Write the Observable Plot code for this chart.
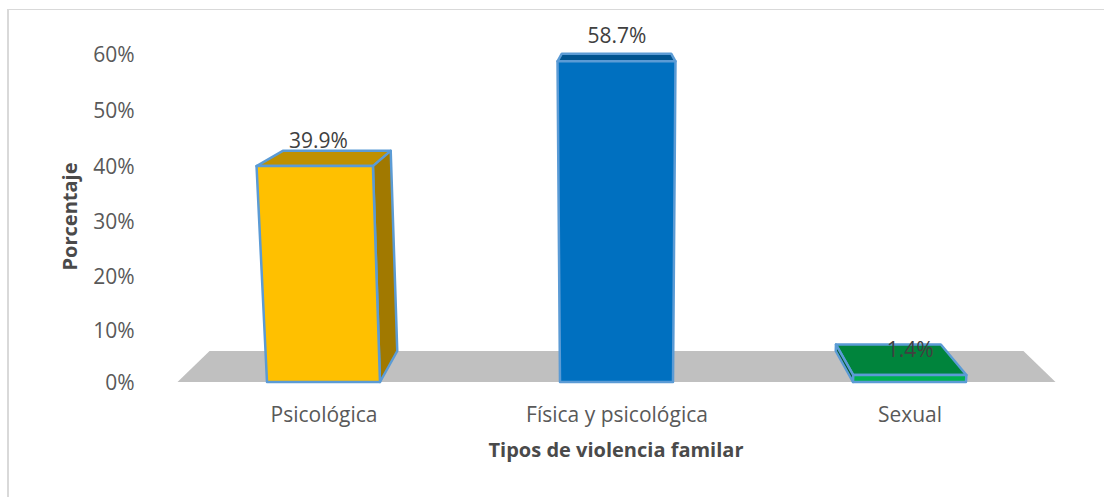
<!DOCTYPE html>
<html>
<head>
<meta charset="utf-8">
<script src="https://cdn.jsdelivr.net/npm/d3@7"></script>
<script src="https://cdn.jsdelivr.net/npm/@observablehq/plot@0.6"></script>
<style>
html,body{margin:0;padding:0;background:#fff;overflow:hidden}
#chart{position:relative;width:1104px;height:497px}
#chart svg{position:absolute;left:0;top:0;background:transparent}
#edge{position:absolute;left:7px;top:9px;right:0;bottom:0;border-left:2px solid #d9d9d9;border-top:1.5px solid #d9d9d9}
</style>
</head>
<body>
<div id="chart"><div id="edge"></div></div>
<script>
const categories = ["Psicológica", "Física y psicológica", "Sexual"];
const percentages = [39.9, 58.7, 1.4];
const valueLabels = ["39.9%", "58.7%", "1.4%"];
const barColors = ["#FFC000", "#0070C0", "#00B050"];
const yTicks = [0, 10, 20, 30, 40, 50, 60];
const xTitle = "Tipos de violencia familar";
const yTitle = "Porcentaje";

const rows = categories.map((category, i) => ({category, value: percentages[i], label: valueLabels[i]}));

const W = 1104, H = 497, FONT = "'Open Sans', sans-serif";
const depth = 0.927, vy = -42.6, widen = 0.00075;
const vx = (W + 176 - 47) / 2;
const backPt = ([x, y]) => [vx + (x - vx) * depth, vy + (y - vy) * depth];
const shade = (c, k) => { const r = d3.rgb(c); return d3.rgb(r.r * k, r.g * k, r.b * k).formatHex(); };
const pts = (a) => a.map((p) => p.map((n) => n.toFixed(2)).join(",")).join(" ");

function floorMark(index, scales, values, dims) {
  const g = d3.create("svg:g");
  const y0 = scales.y(0), a = dims.marginLeft + 1.5, b = dims.width - dims.marginRight - 1.5;
  const f = [[a, y0], [b, y0]];
  const [bb, ba] = [backPt(f[1]), backPt(f[0])];
  g.append("polygon").attr("points", pts([f[0], f[1], bb, ba])).attr("fill", "#C0C0C0");
  return g.node();
}

function solidBars(index, scales, values, dims, context, next) {
  const g = next(index, scales, values, dims, context);
  const sel = d3.select(g);
  sel.selectAll("*").remove();
  const bw = scales.x.bandwidth();
  const y0 = scales.y(0);
  const edge = {stroke: "#5B9BD5", "stroke-width": 2.5, "stroke-linejoin": "round"};
  const face = (points, fill) => {
    const p = sel.append("polygon").attr("points", pts(points)).attr("fill", fill);
    for (const k in edge) p.attr(k, edge[k]);
  };
  for (const i of index) {
    const v = rows[i].value, c = values.fill ? values.fill[i] : barColors[i];
    const left = scales.x(rows[i].category), right = left + bw;
    const yt = scales.y(v), s = 1 + widen * v;
    const tl = [vx + (left - vx) * s, yt], tr = [vx + (right - vx) * s, yt];
    const bl = [left, y0], br = [right, y0];
    const Btl = backPt(tl), Btr = backPt(tr), Bbl = backPt(bl), Bbr = backPt(br);
    face([tl, tr, Btr, Btl], shade(c, 0.75));
    if (right < vx) face([tr, br, Bbr, Btr], shade(c, 0.63));
    if (left > vx) face([tl, bl, Bbl, Btl], shade(c, 0.5));
    face([tl, tr, br, bl], c);
  }
  return g;
}

function liftLabels(index, scales, values, dims, context, next) {
  const g = next(index, scales, values, dims, context);
  const half = scales.x.bandwidth() / 2;
  d3.select(g).selectAll("text").each(function (_, k) {
    const i = index[k], v = rows[i].value;
    const cx = scales.x(rows[i].category) + half;
    const x = vx + (cx - vx) * (1 + 0.00047 * v) - half;
    d3.select(this).attr("transform", `translate(${x},${scales.y(v) - 25.5})`);
  });
  return g;
}

const plot = Plot.plot({
  width: W, height: H,
  marginLeft: 176, marginRight: 47, marginTop: 54, marginBottom: 115,
  style: {fontFamily: FONT, background: "transparent"},
  x: {domain: categories, paddingInner: 0.614, paddingOuter: 0.307, label: null},
  y: {type: "pow", exponent: 1.025, domain: [0, 60], label: null},
  color: {domain: categories, range: barColors},
  marks: [
    floorMark,
    Plot.barY(rows, {x: "category", y: "value", fill: "category", render: solidBars}),
    Plot.text(rows, {x: "category", y: "value", text: "label", fontSize: 21, fill: "#404040", render: liftLabels}),
    Plot.axisY({ticks: yTicks, tickFormat: (d) => d + "%", tickSize: 0, tickPadding: 42, dy: 1, fontSize: 21, color: "#595959", label: null}),
    Plot.axisX({tickSize: 0, tickPadding: 25, fontSize: 21, color: "#595959", label: null}),
    Plot.text([yTitle], {frameAnchor: "left", textAnchor: "middle", dx: -106, dy: -2, rotate: -90, fontWeight: "bold", fontSize: 20, fill: "#4a4a4a", text: (d) => d}),
    Plot.text([xTitle], {frameAnchor: "bottom", dx: -1, dy: 74, fontWeight: "bold", fontSize: 20, fill: "#4a4a4a", text: (d) => d})
  ]
});
document.getElementById("chart").appendChild(plot);
</script>
</body>
</html>
